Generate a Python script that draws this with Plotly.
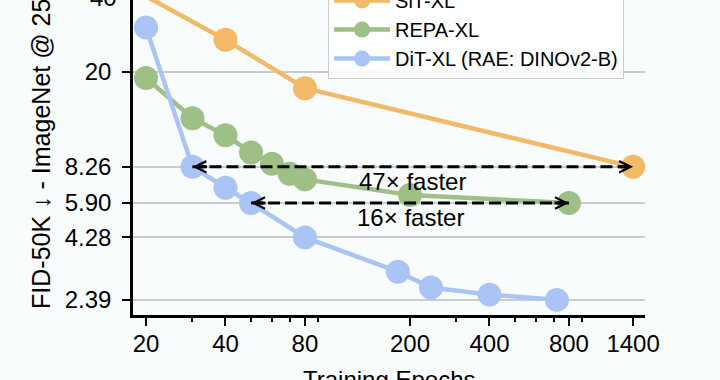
import math
import plotly.graph_objects as go

# ---------------- data ----------------
sit_epochs = [20, 40, 80, 1400]
sit_fid = [40.5, 27.0, 17.2, 8.26]

repa_epochs = [20, 30, 40, 50, 60, 70, 80, 200, 800]
repa_fid = [18.9, 13.0, 11.1, 9.45, 8.5, 7.75, 7.35, 6.35, 5.90]

dit_epochs = [20, 30, 40, 50, 80, 180, 240, 400, 720]
dit_fid = [30.3, 8.26, 6.8, 5.90, 4.28, 3.11, 2.68, 2.51, 2.39]

x_ticks = [20, 40, 80, 200, 400, 800, 1400]
x_minor = [30, 50, 60, 70, 90, 300, 500, 600, 700, 900]
y_ticks = [2.39, 4.28, 5.90, 8.26, 20, 40]
y_ticktext = ["2.39", "4.28", "5.90", "8.26", "20", "40"]

# speed-up arrows: (start/end epochs, fid level, label)
arrow_47 = ([30, 1400], [8.26, 8.26], "47× faster")
arrow_16 = ([50, 800], [5.90, 5.90], "16× faster")

series_names = ["SiT-XL", "REPA-XL", "DiT-XL (RAE: DINOv2-B)"]
series_colors = ["#F2BA68", "#9EBF85", "#A9C4F5"]

x_title = "Training Epochs"
y_title = "FID-50K ↓ - ImageNet @ 256×256"

FONT = "Liberation Sans, Arial, Helvetica, sans-serif"
BG = "#f9fcfd"

x_range = [1.2518, 3.1912]
y_range = [0.3172, 1.5925]

fig = go.Figure()

for name, xs, ys, col in zip(series_names,
                             [sit_epochs, repa_epochs, dit_epochs],
                             [sit_fid, repa_fid, dit_fid],
                             series_colors):
    fig.add_trace(go.Scatter(
        x=xs, y=ys, name=name, mode="lines+markers",
        line=dict(color=col, width=4.5),
        marker=dict(color=col, size=24, line=dict(width=0)),
        cliponaxis=False,
    ))

# dashed arrows
for xs, ys, label in (arrow_47, arrow_16):
    fig.add_trace(go.Scatter(
        x=xs, y=ys, mode="lines", showlegend=False, hoverinfo="skip",
        line=dict(color="black", width=3, dash="12px,5px"),
    ))
    for xv, off in ((xs[0], 16), (xs[1], -16)):
        fig.add_annotation(
            x=math.log10(xv), y=math.log10(ys[0]), xref="x", yref="y",
            ax=off, ay=0, text="", showarrow=True,
            arrowhead=5, arrowsize=0.75, arrowwidth=3, arrowcolor="black",
            standoff=0,
        )
    xmid = math.sqrt(xs[0] * xs[1])
    fig.add_annotation(
        x=math.log10(xmid), y=math.log10(ys[0]), xref="x", yref="y",
        text=label, showarrow=False, yanchor="middle", yshift=-15,
        font=dict(family=FONT, size=24, color="black"),
    )

# top tick label partially outside the figure
top_frac = (math.log10(y_ticks[-1]) - y_range[0]) / (y_range[1] - y_range[0])
fig.add_annotation(
    x=0, y=top_frac, xref="paper", yref="paper", xanchor="right", yanchor="middle",
    xshift=-14, text=y_ticktext[-1], showarrow=False,
    font=dict(family=FONT, size=24, color="black"),
)

# axis titles (both cropped by the figure edge in the reference)
fig.add_annotation(
    x=-0.1797, y=0.013, xref="paper", yref="paper", xanchor="center", yanchor="bottom",
    text=y_title, textangle=-90, showarrow=False,
    font=dict(family=FONT, size=25, color="black"),
)
fig.add_annotation(
    x=0.5, y=-0.157, xref="paper", yref="paper", xanchor="center", yanchor="top",
    text=x_title, showarrow=False,
    font=dict(family=FONT, size=24, color="black"),
)

fig.update_xaxes(
    type="log", range=x_range,
    tickvals=x_ticks, ticktext=[str(v) for v in x_ticks],
    ticks="outside", ticklen=8, tickwidth=2, tickcolor="black",
    showline=True, linewidth=2.5, linecolor="black",
    showgrid=False, zeroline=False,
    tickfont=dict(family=FONT, size=24, color="black"),
    ticklabelstandoff=-3,
    minor=dict(tickmode="array", tickvals=x_minor, ticks="outside",
               ticklen=4, tickwidth=1.5, tickcolor="black", showgrid=False),
    automargin=False,
)
fig.update_yaxes(
    type="log", range=y_range,
    tickvals=y_ticks, ticktext=y_ticktext,
    ticks="outside", ticklen=8, tickwidth=2, tickcolor="black",
    showline=True, linewidth=2.5, linecolor="black",
    showgrid=True, gridcolor="#cccccc", gridwidth=2, zeroline=False,
    tickfont=dict(family=FONT, size=24, color="black"),
    ticklabelstandoff=6,
    automargin=False,
)

fig.update_layout(
    width=720, height=380,
    margin=dict(l=133, r=75, t=0, b=65, autoexpand=False),
    paper_bgcolor=BG, plot_bgcolor=BG,
    font=dict(family=FONT, size=20, color="black"),
    showlegend=True,
    legend=dict(
        x=0.381, y=0.749, xanchor="left", yanchor="bottom",
        bgcolor="rgba(255,255,255,0.85)", bordercolor="#cccccc", borderwidth=1,
        font=dict(family=FONT, size=20, color="black"),
        itemsizing="trace", itemwidth=56, tracegroupgap=0,
    ),
)

fig.write_html(
    "out.html",
    config={"displayModeBar": False},
    post_script="document.body.style.margin='0';document.body.style.overflow='hidden';",
)
